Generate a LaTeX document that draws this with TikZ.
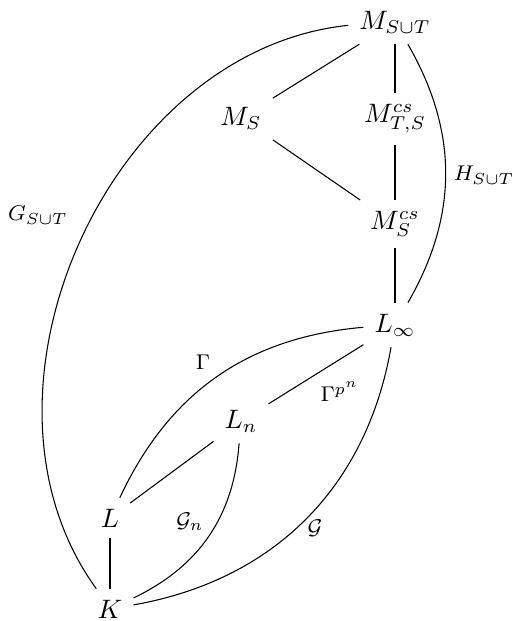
\documentclass[tikz,border=0pt]{standalone}
\usepackage{amsmath,amssymb}
\usetikzlibrary{positioning}
\begin{document}
\begin{tikzpicture}[
  x=0.375pt, y=0.375pt,
  field/.style={inner sep=4pt},
  ext/.style={thin},
  lbl/.style={font=\footnotesize, inner sep=1pt},
]
  \useasboundingbox (0,0) rectangle (512,621);

  % fields
  \node[field] (mst) at (395,599) {$M_{S\cup T}$};
  \node[field] (ms) at (241,503) {$M_S$};
  \node[field] (mcsts) at (395,502) {$M^{cs}_{T,S}$};
  \node[field] (mcss) at (395,397) {$M^{cs}_S$};
  \node[field] (linf) at (395,296) {$L_\infty$};
  \node[field] (ln) at (241,200) {$L_n$};
  \node[field] (l) at (110,103) {$L$};
  \node[field] (k) at (110,12) {$K$};

  % extensions
  \draw[ext] (mst) -- (ms);
  \draw[ext] (mst) -- (mcsts);
  \draw[ext] (ms) -- (mcss);
  \draw[ext] (mcsts) -- (mcss);
  \draw[ext] (mcss) -- (linf);
  \draw[ext] (linf) -- (ln);
  \draw[ext] (ln) -- (l);
  \draw[ext] (l) -- (k);
  \draw[ext] (mst) to[bend left=30] (linf);
  \draw[ext] (mst) to[bend right=60] (k);
  \draw[ext] (linf) to[bend right=30] (l);
  \draw[ext] (linf) to[bend left=35] (k);
  \draw[ext] (ln) to[bend left=30] (k);

  % groups
  \node[lbl] (gst) at (38,406) {$G_{S\cup T}$};
  \node[lbl] (hst) at (484,446) {$H_{S\cup T}$};
  \node[lbl] (gam) at (203,259) {$\Gamma$};
  \node[lbl] (gampn) at (340,229) {$\Gamma^{p^n}$};
  \node[lbl] (gn) at (190,99) {$\mathcal{G}_n$};
  \node[lbl] (g) at (315,93) {$\mathcal{G}$};
\end{tikzpicture}
\end{document}
